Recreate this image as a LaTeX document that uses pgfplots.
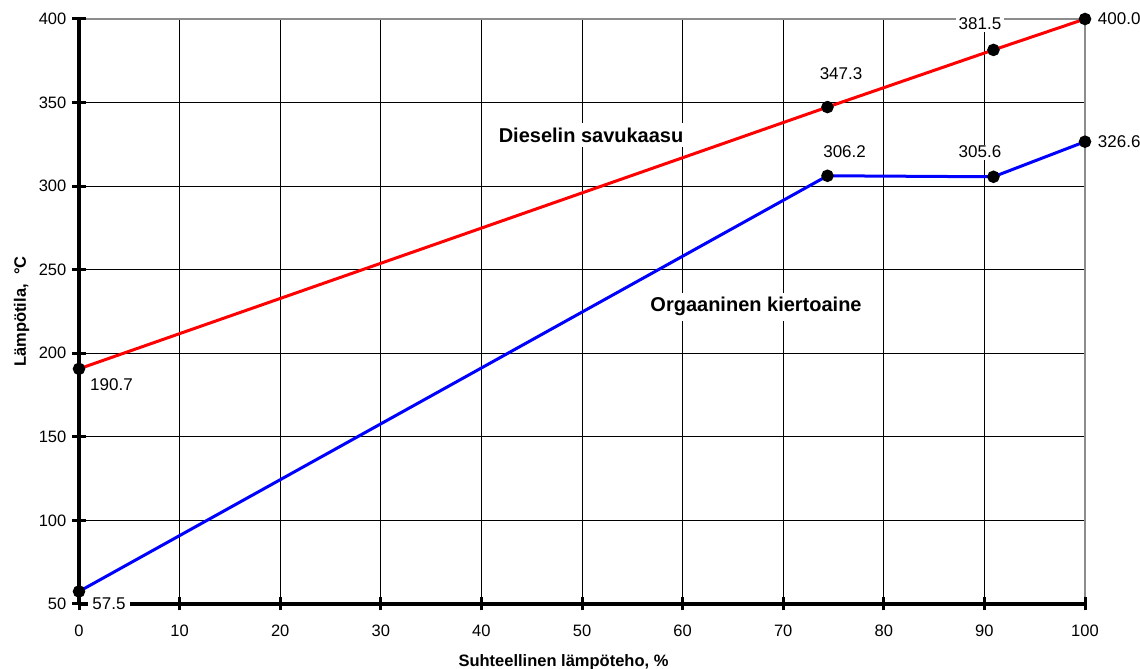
\documentclass[border=0pt]{standalone}
\usepackage{fontspec}
\setmainfont{Liberation Sans}
\usepackage{pgfplots}
\pgfplotsset{compat=1.18}

\definecolor{gasred}{RGB}{255,0,0}
\definecolor{fluidblue}{RGB}{0,0,255}

\tikzset{
  lab/.style={font=\fontsize{17}{20}\selectfont, fill=white, inner xsep=2.5pt, inner ysep=1.5pt},
  note/.style={font=\bfseries\fontsize{20}{24}\selectfont, fill=white, inner sep=5pt, anchor=base},
}

\begin{document}
\begin{tikzpicture}
\begin{axis}[
  set layers, clip=false,
  at={(0pt,0pt)}, anchor=south west,
  scale only axis, width=1006pt, height=585pt,
  xmin=0, xmax=100, ymin=50, ymax=400,
  axis x line*=bottom, axis y line*=left,
  axis line style={line width=4pt, black},
  xtick={0,10,...,90}, extra x ticks={100},
  ytick={50,100,...,350}, extra y ticks={400},
  grid=major,
  major grid style={black, line width=1pt},
  extra x tick style={grid=major, major grid style={black!45, line width=1.3pt}},
  extra y tick style={grid=major, major grid style={black!45, line width=1.3pt}},
  tick align=center, major tick length=13pt,
  every tick/.style={black, line width=3pt},
  /pgf/number format/assume math mode=true,
  ticklabel style={font=\fontsize{16.5}{19}\selectfont},
  xticklabel style={inner sep=0pt, anchor=north, yshift=-14pt},
  yticklabel style={inner sep=0pt, anchor=east, xshift=-6pt},
  xlabel={Suhteellinen lämpöteho, \%},
  ylabel={Lämpötila, \ °C},
  label style={font=\bfseries\fontsize{16.5}{19}\selectfont},
  xlabel style={at={(axis description cs:0.4816,-0.106)}, anchor=base},
  ylabel style={at={(axis description cs:-0.0527,0.5)}, anchor=base},
]
% flue gas of the diesel engine
\addplot[gasred, line width=3pt, mark=*, mark size=4.7pt,
  mark options={draw=black, fill=black}] coordinates {
  (0,190.7) (74.4,347.3) (90.9,381.5) (100,400.0)
};
% organic working fluid
\addplot[fluidblue, line width=3pt, mark=*, mark size=4.7pt,
  mark options={draw=black, fill=black}] coordinates {
  (0,57.5) (74.4,306.2) (90.9,305.6) (100,326.6)
};

\node[note] at (axis cs:50.9,326.4) {Dieselin savukaasu};
\node[note] at (axis cs:67.3,224.7) {Orgaaninen kiertoaine};

\node[lab] at (axis cs:3.23,181.0) {190.7};
\node[lab, inner xsep=4pt, inner ysep=2.5pt] at (axis cs:2.98,50) {57.5};
\node[lab] at (axis cs:75.75,367.1) {347.3};
\node[lab] at (axis cs:89.56,397.0) {381.5};
\node[lab] at (axis cs:103.4,400.0) {400.0};
\node[lab] at (axis cs:76.1,320.4) {306.2};
\node[lab] at (axis cs:89.56,320.4) {305.6};
\node[lab] at (axis cs:103.4,326.4) {326.6};
\end{axis}
\pgfresetboundingbox
\useasboundingbox (-79pt,-65pt) rectangle (1061pt,604pt);
\end{tikzpicture}
\end{document}
